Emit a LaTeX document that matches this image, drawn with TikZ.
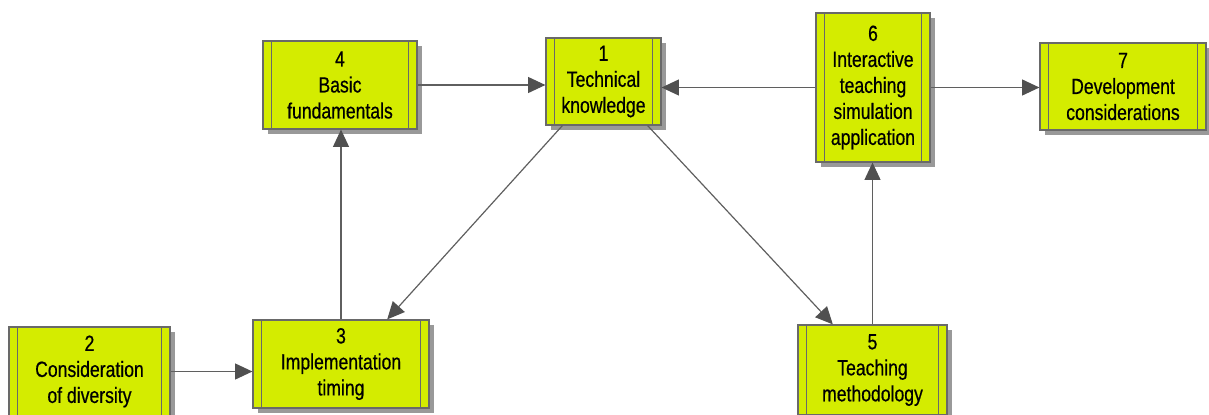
\documentclass[tikz,border=0pt]{standalone}
\usepackage{fontspec}
\setmainfont{Liberation Sans}[FakeStretch=0.8,FakeBold=0.5]
\usetikzlibrary{arrows.meta,%
                shadows}
\definecolor{boxfill}{RGB}{212,236,0}
\definecolor{boxline}{RGB}{105,105,105}
\definecolor{linkgray}{RGB}{95,95,95}
\definecolor{tipgray}{RGB}{80,80,80}

\begin{document}
\begin{tikzpicture}[x=0.75pt,y=-0.75pt]
  \tikzstyle{ProcBox}=[draw=boxline,line width=0.9pt,fill=boxfill,
    drop shadow={shadow xshift=3.5pt,shadow yshift=-3.5pt,fill=black!40,opacity=1},
    align=center,inner sep=0pt,font=\fontsize{16.5}{19.5}\selectfont,
    path picture={\draw[boxline,line width=0.9pt]
      ([xshift=6.5pt]path picture bounding box.north west) -- ([xshift=6.5pt]path picture bounding box.south west)
      ([xshift=-6.5pt]path picture bounding box.north east) -- ([xshift=-6.5pt]path picture bounding box.south east);}]
  \tikzstyle{LinkStyle}=[draw=linkgray,line width=0.9pt,-{Triangle[length=13pt,width=12pt,color=tipgray]}]
  \useasboundingbox (0,0) rectangle (1209,414);
  % top row
  \node[ProcBox,minimum width=115.5pt,minimum height=66pt] (b4) at (340,85) {4\\Basic\\fundamentals};
  \node[ProcBox,minimum width=86.25pt,minimum height=65.25pt] (b1) at (603.5,81.5) {1\\Technical\\knowledge};
  \node[ProcBox,minimum width=85.5pt,minimum height=111.75pt] (b6) at (873,87.5) {6\\Interactive\\teaching\\simulation\\application};
  \node[ProcBox,minimum width=124.5pt,minimum height=65.25pt] (b7) at (1123,86.5) {7\\Development\\considerations};
  % bottom row
  \node[ProcBox,minimum width=120.75pt,minimum height=66.75pt] (b2) at (89.5,371.5) {2\\Consideration\\of diversity};
  \node[ProcBox,minimum width=132pt,minimum height=66pt] (b3) at (341,364) {3\\Implementation\\timing};
  \node[ProcBox,minimum width=111.75pt,minimum height=67.5pt] (b5) at (872.5,370) {5\\Teaching\\methodology};
  % links
  \draw[LinkStyle] (b4.east) -- (b4.east -| b1.west);
  \draw[LinkStyle] (b6.west) -- (b6.west -| b1.east);
  \draw[LinkStyle] (b6.east) -- (b6.east -| b7.west);
  \draw[LinkStyle] (b2.east) -- (b2.east -| b3.west);
  \draw[LinkStyle] (b3.north) -- (b3.north |- b4.south);
  \draw[LinkStyle] (b5.north) -- (b5.north |- b6.south);
  \draw[LinkStyle] (b1.227) -- (b3.44);
  \draw[LinkStyle] (b1.-45) -- (b5.131);
\end{tikzpicture}
\end{document}
